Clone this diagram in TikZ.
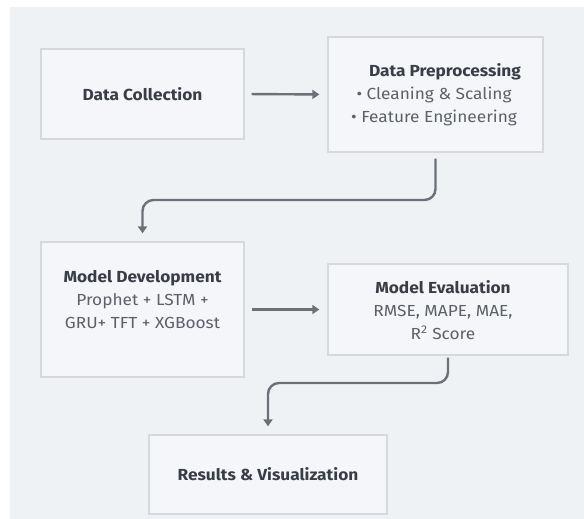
\documentclass[tikz,border=0pt]{standalone}
\usepackage{fontspec}
\setmainfont[FakeStretch=1.08]{Fira Sans}
\usetikzlibrary{arrows.meta}

\definecolor{pagebg}{HTML}{EFF2F5}
\definecolor{boxfill}{HTML}{F4F6F9}
\definecolor{boxline}{HTML}{D5D9DE}
\definecolor{flow}{HTML}{6C7179}
\definecolor{headtext}{HTML}{393D46}
\definecolor{bodytext}{HTML}{5C6169}

\tikzset{
  stagebox/.style={draw=boxline, fill=boxfill, line width=1.3pt, inner sep=0pt},
  stagetext/.style={align=center, text=bodytext, font=\fontsize{16}{23}\selectfont},
  flowarrow/.style={draw=flow, line width=2.4pt, rounded corners=11pt,
    -{Triangle[length=7pt,width=9pt]}},
}
\newcommand{\stagehead}[1]{\textbf{\textcolor{headtext}{#1}}}

\begin{document}
\begin{tikzpicture}[x=1pt,y=-1pt]
  % canvas
  \useasboundingbox (0,0) rectangle (584,519);
  \fill[white] (0,0) rectangle (584,519);
  \fill[pagebg] (10,7) rectangle (584,519);

  % stage boxes
  \node[stagebox, minimum width=203pt, minimum height=90pt]  (collect)  at (142.5,94)   {};
  \node[stagebox, minimum width=215pt, minimum height=115pt] (preproc)  at (435.5,94.5) {};
  \node[stagebox, minimum width=203pt, minimum height=135pt] (develop)  at (142.5,309.5) {};
  \node[stagebox, minimum width=240pt, minimum height=91pt]  (evaluate) at (448,309.5)  {};
  \node[stagebox, minimum width=238pt, minimum height=79pt]  (results)  at (268,474.5)  {};

  % stage labels
  \node[stagetext] (collecttxt) at (collect) {\stagehead{Data Collection}};
  \node[stagetext] (preproctxt) at (434,95)
    {\stagehead{\hspace*{22pt}Data Preprocessing}\\ • Cleaning \& Scaling\\ • Feature Engineering};
  \node[stagetext] (developtxt) at (142.5,300)
    {\stagehead{Model Development}\\ Prophet + LSTM +\\ GRU+ TFT + XGBoost};
  \node[stagetext] (evaluatetxt) at (443,310)
    {\stagehead{Model Evaluation}\\ RMSE, MAPE, MAE,\\ R\textsuperscript{2} Score};
  \node[stagetext] (resultstxt) at (results) {\stagehead{Results \& Visualization}};

  % turning points of the elbow connectors
  \coordinate (bendA) at (0,200);
  \coordinate (bendB) at (0,383);

  % connectors
  \draw[flowarrow, shorten <=7pt, shorten >=8pt] (collect.east) -- (preproc.west);
  \draw[flowarrow, shorten <=7pt, shorten >=8pt] (develop.east |- evaluate.west) -- (evaluate.west);
  \draw[flowarrow, shorten <=6pt, shorten >=8pt]
    (preproc.south) -- (preproc.south |- bendA) -| (develop.north);
  \draw[flowarrow, shorten <=2pt, shorten >=8pt]
    (evaluate.south) -- (evaluate.south |- bendB) -| (results.north);
\end{tikzpicture}
\end{document}
